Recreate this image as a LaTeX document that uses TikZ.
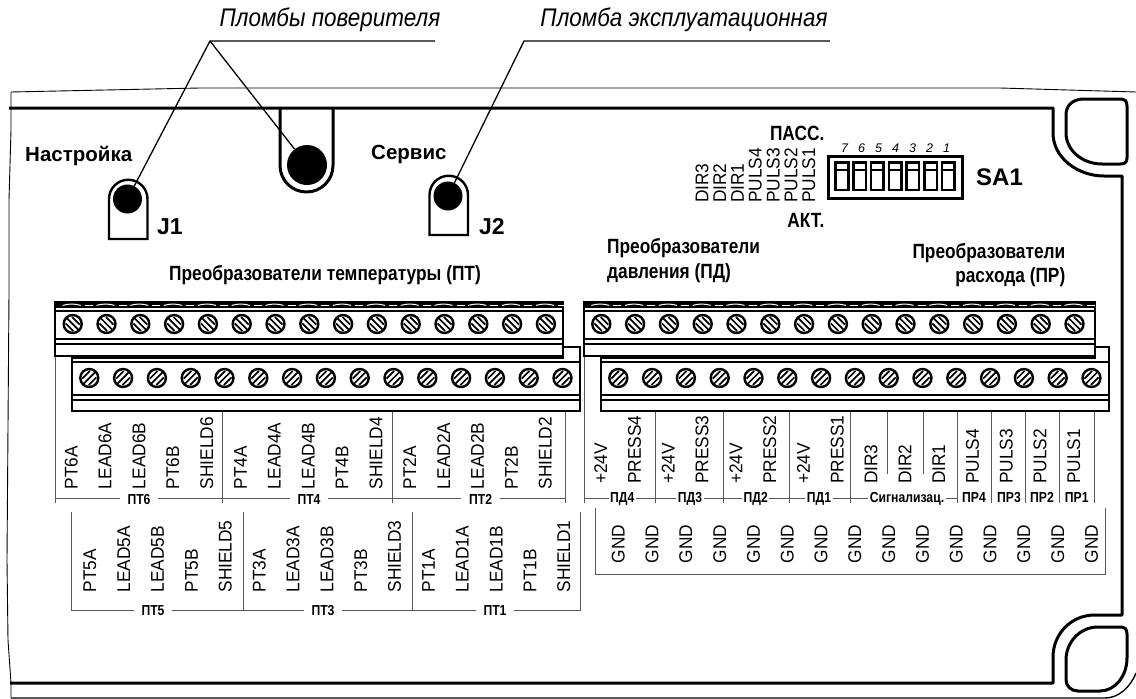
\documentclass[tikz,border=0pt]{standalone}
\usepackage{fontspec}
\usepackage{xcolor}
\setmainfont{Liberation Sans}
\newfontfamily\narrowFont[FakeStretch=0.84]{Liberation Sans}
\newfontfamily\pinFont[FakeStretch=0.94]{Liberation Sans}
\newfontfamily\sealFont[FakeStretch=0.88]{Liberation Sans}
\definecolor{sepC}{gray}{0.35}
\tikzset{
  frameline/.style={line width=3pt,line join=round},
  thinline/.style={line width=0.9pt},
  blockline/.style={line width=2pt},
  sepline/.style={line width=1pt,draw=sepC},
  leaderline/.style={line width=1.3pt},
  pinlabel/.style={rotate=90,anchor=west,inner sep=0pt,font=\pinFont\fontsize{18.4}{20}\selectfont},
  titlelabel/.style={inner sep=0pt,font=\narrowFont\bfseries\fontsize{20.6}{22}\selectfont},
  boldlabel/.style={inner sep=0pt,anchor=west,font=\bfseries\fontsize{20.5}{22}\selectfont},
  grouplabel/.style={inner sep=0pt,text height=10.5pt,text depth=2pt,font=\narrowFont\bfseries\fontsize{14.5}{16}\selectfont},
  seallabel/.style={inner sep=0pt,font=\sealFont\itshape\fontsize{25.5}{28}\selectfont},
  sealdot/.style={circle,fill=black,inner sep=0pt}
}
\begin{document}
\begin{tikzpicture}[x=1pt,y=-1pt]
        \newcommand\screwUp[2]{\draw[line width=2.4pt,fill=white] (#1,#2) circle (9);
          \draw[line width=1.7pt] (#1-5.8,#2-5.8) -- (#1+5.8,#2+5.8) (#1-0.6,#2-7) -- (#1+7,#2+0.6) (#1-7,#2-0.6) -- (#1+0.6,#2+7)}
        \newcommand\screwDown[2]{\draw[line width=2.4pt,fill=white] (#1,#2) circle (9);
          \draw[line width=1.7pt] (#1-5.8,#2+5.8) -- (#1+5.8,#2-5.8) (#1-7,#2+0.6) -- (#1+0.6,#2-7) (#1-0.6,#2+7) -- (#1+7,#2-0.6)}
        \newcommand\upperBlock[3]{\fill (#1,302) rectangle (#2,307.5);
          \draw[blockline,fill=white] (#1,307) rectangle (#2,356);
          \draw[blockline] (#1,302) rectangle (#2,307);
          \draw[blockline] (#1,310.5) -- (#2,310.5) (#1,339) -- (#2,339) (#1,344) -- (#2,344);
          \foreach \i in {0,...,14} {
            \screwUp{#3+33.8*\i}{324};
            \draw[white,line width=1pt] (#3+33.8*\i-10,305.4) .. controls (#3+33.8*\i-4,303.6) and (#3+33.8*\i+2,303.6) .. (#3+33.8*\i+8,305.4);
            \draw[white,line width=1pt] (#3+33.8*\i+12,305.8) -- (#3+33.8*\i+20,305.8);
          }}
        \newcommand\lowerBlock[4]{\draw[blockline,fill=white] (#1,358) -- (#3,358) -- (#3,347) -- (#2,347) -- (#2,410.5) -- (#1,410.5) -- cycle;
          \draw[blockline] (#1,362) -- (#2,362) (#1,395) -- (#2,395) (#1,400) -- (#2,400);
          \foreach \i in {0,...,14} {\screwDown{#4+33.8*\i}{378};}}
        \useasboundingbox (0,0) rectangle (1136,699);
        % case
        \draw[thinline] (11,698) -- (11,683) -- (8,640) -- (7,560) -- (9,293) -- (9,200) -- (11,130) -- (11,92)
          -- (200,88) -- (590,88) -- (1000,88) -- (1136,92);
        \draw[line width=1.4pt] (11,698) -- (1105,698) .. controls (1118,698) and (1130,688) .. (1136,673);
        \draw[frameline] (9,108) -- (1053,108) -- (1053,133) .. controls (1053,158) and (1078,176) .. (1104,176)
          -- (1122,176) -- (1122,615) -- (1095,615) .. controls (1070,615) and (1053,635) .. (1053,657)
          -- (1053,683) -- (10,683);
        \draw[frameline] (1084,99) -- (1120,99) .. controls (1125,99) and (1127,101) .. (1127,106) -- (1127,158)
          .. controls (1127,162) and (1125,164) .. (1120,164) -- (1102,164) .. controls (1082,164) and (1066,150) .. (1066,133)
          -- (1066,115) .. controls (1066,105) and (1073,99) .. (1084,99) -- cycle;
        \draw[frameline] (1098,627) -- (1120,627) .. controls (1125,627) and (1127,629) .. (1127,634) -- (1127,658)
          .. controls (1127,676) and (1115,691) .. (1100,691) -- (1078,691) .. controls (1071,691) and (1066,686) .. (1066,680)
          -- (1066,660) .. controls (1066,642) and (1080,627) .. (1098,627) -- cycle;
        % seals
        \draw[frameline] (280,108) -- (280,165.5) arc (180:360:26.5 and -26.5) -- (333,108);
        \draw[line width=2.4pt] (109,239) -- (109,199) arc (180:0:19.25 and -19.25) -- (147.5,239) -- cycle;
        \draw[line width=2.4pt] (429.5,235) -- (429.5,195) arc (180:0:19.25 and -19.25) -- (468,235) -- cycle;
        \node[sealdot,minimum size=40pt] (sealMid) at (307,165) {};
        \node[sealdot,minimum size=29pt] (sealJ1) at (127.5,199) {};
        \node[sealdot,minimum size=29pt] (sealJ2) at (448,196) {};
        \node[seallabel] (verifierLabel) at (330,20) {Пломбы поверителя};
        \node[seallabel] (serviceLabel) at (684,20) {Пломба эксплуатационная};
        \coordinate (apexA) at (210,41);
        \coordinate (endA) at (435,41);
        \coordinate (apexB) at (524,41);
        \coordinate (endB) at (830,41);
        \draw[leaderline] (endA) -- (apexA) -- (sealJ1);
        \draw[leaderline] (apexA) -- (sealMid);
        \draw[leaderline] (endB) -- (apexB) -- (sealJ2);
        \node[boldlabel] (setupLabel) at (25,156) {Настройка};
        \node[boldlabel] (serviceText) at (371,154) {Сервис};
        \node[boldlabel,font=\bfseries\fontsize{23}{26}\selectfont] (labelJ1) at (157,227) {J1};
        \node[boldlabel,font=\bfseries\fontsize{23}{26}\selectfont] (labelJ2) at (479,227) {J2};
        % switch
        \draw[line width=3pt] (828,156) rectangle (962,198);
        \foreach \i [count=\n from 0] in {7,6,5,4,3,2,1} {
          \draw[line width=2.6pt] (842+17.7*\n-6.3,162.5) rectangle (842+17.7*\n+6.3,190);
          \draw[line width=2.6pt] (842+17.7*\n-6.3,170) -- (842+17.7*\n+6.3,170);
          \node[inner sep=0pt,font=\itshape\fontsize{12.5}{14}\selectfont] (swNum\i) at (844.5+17*\n,148) {\i};
        }
        \node[boldlabel,font=\bfseries\fontsize{24}{26}\selectfont] (labelSA) at (976,177) {SA1};
        \node[titlelabel,anchor=east] (passLabel) at (824.5,133) {ПАСС.};
        \node[titlelabel,anchor=east] (actLabel) at (824.5,220) {АКТ.};
        \foreach \name [count=\n from 0] in {DIR3,DIR2,DIR1,PULS4,PULS3,PULS2,PULS1} {
          \node[pinlabel] (sw\name) at (702+17.8*\n,203) {\name};
        }
        % titles
        \node[titlelabel] (tempTitle) at (325,275) {Преобразователи температуры (ПТ)};
        \node[titlelabel,anchor=west] (pressTitleA) at (607,248) {Преобразователи};
        \node[titlelabel,anchor=west] (pressTitleB) at (607,273) {давления (ПД)};
        \node[titlelabel,anchor=east] (flowTitleA) at (1065.5,253) {Преобразователи};
        \node[titlelabel,anchor=east] (flowTitleB) at (1065.5,277) {расхода (ПР)};
        % separators
        \foreach \x in {55,584} {\draw[sepline] (\x,356) -- (\x,503);}
        \foreach \x in {222.7,392.3,565.7,655.7,723.3,789.3,850.5,957.3,991.3,1025,1059,1094.3} {
          \draw[sepline] (\x,410) -- (\x,503);
        }
        \foreach \x in {887.7,923.3} {\draw[sepline] (\x,410) -- (\x,474);}
        \foreach \x in {71,243.3,412.7,580} {\draw[sepline] (\x,511.7) -- (\x,610.7);}
        \draw[sepline] (55,498.3) -- (565.7,498.3) (584,498.3) -- (957.3,498.3);
        \draw[sepline] (71,610.7) -- (580,610.7);
        \draw[sepline] (595.7,508.3) -- (595.7,574.7) -- (1105,574.7) -- (1105,508.3);
        % terminal blocks
        \lowerBlock{72.3}{580}{563}{89.3};
        \upperBlock{54.5}{563}{72.7};
        \lowerBlock{601}{1109}{1095}{618.3};
        \upperBlock{584}{1095}{601.3};
        % pin names
        \foreach \name [count=\n from 0] in {PT6A,LEAD6A,LEAD6B,PT6B,SHIELD6,PT4A,LEAD4A,LEAD4B,PT4B,SHIELD4,PT2A,LEAD2A,LEAD2B,PT2B,SHIELD2} {
          \node[pinlabel] (\name) at (71.3+33.85*\n,489.3) {\name};
        }
        \foreach \name [count=\n from 0] in {PT5A,LEAD5A,LEAD5B,PT5B,SHIELD5,PT3A,LEAD3A,LEAD3B,PT3B,SHIELD3,PT1A,LEAD1A,LEAD1B,PT1B,SHIELD1} {
          \node[pinlabel] (\name) at (90+33.85*\n,592.7) {\name};
        }
        \foreach \name [count=\n from 0] in {+24V,PRESS4,+24V,PRESS3,+24V,PRESS2,+24V,PRESS1,DIR3,DIR2,DIR1,PULS4,PULS3,PULS2,PULS1} {
          \node[pinlabel] (pin\n) at (600.7+33.8*\n,484) {\name};
        }
        \foreach \n in {0,...,14} {
          \node[pinlabel] (gnd\n) at (618.3+33.8*\n,563.3) {GND};
        }
        % group names
        \foreach \name/\x in {ПТ6/139,ПТ4/309,ПТ2/480.7} {
          \node[grouplabel,fill=white,inner xsep=8pt] (group\name) at (\x,500) {\name};
        }
        \foreach \name/\x in {ПТ5/153,ПТ3/323,ПТ1/495} {
          \node[grouplabel,fill=white,inner xsep=8pt] (group\name) at (\x,611) {\name};
        }
        \foreach \name/\x in {ПД4/622.3,ПД3/690,ПД2/755.7,ПД1/819,Сигнализац./907} {
          \node[grouplabel,fill=white,inner xsep=1.5pt] (group\name) at (\x,498) {\name};
        }
        \foreach \name/\x in {ПР4/974,ПР3/1009,ПР2/1042,ПР1/1076.7} {
          \node[grouplabel,fill=white,inner xsep=1pt] (group\name) at (\x,498) {\name};
        }
\end{tikzpicture}
\end{document}
